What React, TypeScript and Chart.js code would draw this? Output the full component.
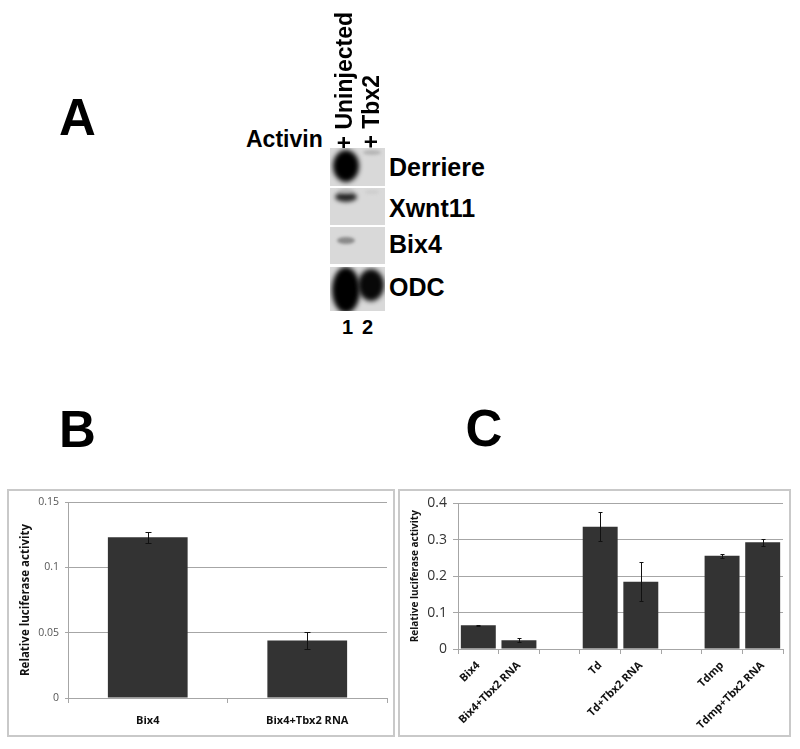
import React, { useEffect, useRef } from 'react';
import Chart from 'chart.js/auto';

// ---- Panel B data ----
const bCategories = ['Bix4', 'Bix4+Tbx2 RNA'];
const bValues = [0.123, 0.044];
const bErrors = [0.004, 0.0065];
const bYTicks = [0, 0.05, 0.1, 0.15];

// ---- Panel C data ----
const cCategories = ['Bix4', 'Bix4+Tbx2 RNA', '', 'Td', 'Td+Tbx2 RNA', '', 'Tdmp', 'Tdmp+Tbx2 RNA'];
const cValues = [0.065, 0.024, null, 0.336, 0.185, null, 0.256, 0.293];
const cErrors = [0.002, 0.005, null, 0.04, 0.053, null, 0.005, 0.01];
const cYTicks = [0, 0.1, 0.2, 0.3, 0.4];

// ---- Panel A labels ----
const gelLaneNumbers = ['1', '2'];
const gelGenes = ['Derriere', 'Xwnt11', 'Bix4', 'ODC'];
const gelConditions = ['+ Uninjected', '+ Tbx2'];

const AXIS_TITLE = 'Relative luciferase activity';
const BAR_COLOR = '#333333';
const GRID = '#a6a6a6';
const FONT = '"Open Sans", Lato, sans-serif';

const errorBarPlugin = {
  id: 'errorBars',
  afterDatasetsDraw(chart: any, _args: any, opts: any) {
    const errs: (number | null)[] = opts.errors || [];
    const cap: number = opts.cap || 3;
    const meta = chart.getDatasetMeta(0);
    const yScale = chart.scales.y;
    const data = chart.data.datasets[0].data;
    const ctx = chart.ctx;
    ctx.save();
    ctx.strokeStyle = '#111';
    ctx.lineWidth = 1;
    meta.data.forEach((el: any, i: number) => {
      const v = data[i];
      const e = errs[i];
      if (v == null || e == null) return;
      const x = Math.round(el.x) + 0.5;
      const yt = Math.round(yScale.getPixelForValue(v + e)) + 0.5;
      const yb = Math.round(yScale.getPixelForValue(v - e)) + 0.5;
      ctx.beginPath();
      ctx.moveTo(x, yt);
      ctx.lineTo(x, yb);
      ctx.moveTo(x - cap, yt);
      ctx.lineTo(x + cap, yt);
      ctx.moveTo(x - cap, yb);
      ctx.lineTo(x + cap, yb);
      ctx.stroke();
    });
    ctx.restore();
  },
};

type BarProps = {
  left: number;
  top: number;
  width: number;
  height: number;
  config: any;
};

function BarCanvas({ left, top, width, height, config }: BarProps) {
  const ref = useRef<HTMLCanvasElement | null>(null);
  useEffect(() => {
    if (!ref.current) return;
    const chart = new Chart(ref.current, config);
    return () => chart.destroy();
  }, []);
  return (
    <>
      <canvas
        ref={ref}
        width={width}
        height={height}
        style={{ position: 'absolute', left, top, width, height }}
      />
      <div
        style={{
          position: 'absolute',
          left,
          top,
          width,
          height,
          boxSizing: 'border-box',
          border: '2px solid #c9c9c9',
          pointerEvents: 'none',
        }}
      />
    </>
  );
}

const configB = {
  type: 'bar',
  data: {
    labels: bCategories,
    datasets: [
      {
        data: bValues,
        backgroundColor: BAR_COLOR,
        borderWidth: 0,
        barPercentage: 0.5,
        categoryPercentage: 1,
      },
    ],
  },
  plugins: [errorBarPlugin],
  options: {
    responsive: false,
    animation: false,
    devicePixelRatio: 1,
    layout: { padding: { top: 13, right: 8, left: 0, bottom: 0 } },
    plugins: {
      legend: { display: false },
      tooltip: { enabled: false },
      errorBars: { errors: bErrors, cap: 3 },
    },
    scales: {
      y: {
        min: bYTicks[0],
        max: bYTicks[bYTicks.length - 1],
        afterBuildTicks: (s: any) => {
          s.ticks = bYTicks.map((v) => ({ value: v }));
        },
        afterFit: (s: any) => {
          s.width = 61;
        },
        grid: { color: GRID, tickLength: 3, lineWidth: 1 },
        border: { color: GRID },
        ticks: {
          padding: 6,
          color: '#555',
          font: { family: FONT, size: 10.5 },
          callback: (v: any) => String(v),
        },
        title: {
          display: true,
          text: AXIS_TITLE,
          color: '#111',
          font: { family: FONT, size: 11.5, weight: 'bold' },
          padding: { top: 12, bottom: 0 },
        },
      },
      x: {
        afterFit: (s: any) => {
          s.height = 39;
        },
        grid: { drawOnChartArea: false, tickLength: 5, color: GRID, offset: true },
        border: { color: GRID },
        ticks: {
          padding: 11,
          color: '#111',
          maxRotation: 0,
          font: { family: FONT, size: 11, weight: 'bold' },
        },
      },
    },
  },
};

const configC = {
  type: 'bar',
  data: {
    labels: cCategories,
    datasets: [
      {
        data: cValues,
        backgroundColor: BAR_COLOR,
        borderWidth: 0,
        barPercentage: 0.86,
        categoryPercentage: 1,
      },
    ],
  },
  plugins: [errorBarPlugin],
  options: {
    responsive: false,
    animation: false,
    devicePixelRatio: 1,
    layout: { padding: { top: 13, right: 8, left: 0, bottom: 0 } },
    plugins: {
      legend: { display: false },
      tooltip: { enabled: false },
      errorBars: { errors: cErrors, cap: 2 },
    },
    scales: {
      y: {
        min: cYTicks[0],
        max: cYTicks[cYTicks.length - 1],
        afterBuildTicks: (s: any) => {
          s.ticks = cYTicks.map((v) => ({ value: v }));
        },
        afterFit: (s: any) => {
          s.width = 60;
        },
        grid: { color: GRID, tickLength: 5, lineWidth: 1 },
        border: { color: GRID },
        ticks: {
          padding: 6,
          color: '#333',
          font: { family: FONT, size: 14 },
          callback: (v: any) => String(v),
        },
        title: {
          display: true,
          text: AXIS_TITLE,
          color: '#111',
          font: { family: FONT, size: 10, weight: 'bold' },
          padding: { top: 11, bottom: 0 },
        },
      },
      x: {
        afterFit: (s: any) => {
          s.height = 88;
        },
        grid: { drawOnChartArea: false, tickLength: 5, color: GRID, offset: true },
        border: { color: GRID },
        ticks: {
          padding: 5,
          color: '#111',
          autoSkip: false,
          minRotation: 45,
          maxRotation: 45,
          font: { family: FONT, size: 11, weight: 'bold' },
        },
      },
    },
  },
};

const HELV = '"Liberation Sans", Arial, Helvetica, sans-serif';

function Txt({ left, top, size, children }: any) {
  return (
    <div
      style={{
        position: 'absolute',
        left,
        top,
        fontFamily: HELV,
        fontWeight: 'bold',
        fontSize: size,
        lineHeight: 1,
        whiteSpace: 'nowrap',
        color: '#000',
      }}
    >
      {children}
    </div>
  );
}

function VTxt({ left, bottom, size, children }: any) {
  return (
    <div
      style={{
        position: 'absolute',
        left,
        bottom,
        fontFamily: HELV,
        fontWeight: 'bold',
        fontSize: size,
        lineHeight: 1,
        whiteSpace: 'nowrap',
        writingMode: 'vertical-rl',
        transform: 'rotate(180deg)',
        color: '#000',
      }}
    >
      {children}
    </div>
  );
}

function Blob({ cx, cy, w, h, color, blur }: any) {
  return (
    <div
      style={{
        position: 'absolute',
        left: cx - w / 2,
        top: cy - h / 2,
        width: w,
        height: h,
        borderRadius: '50%',
        background: color,
        filter: `blur(${blur}px)`,
      }}
    />
  );
}

const gelRows = [
  { top: 148, height: 38 },
  { top: 188, height: 37 },
  { top: 227, height: 37 },
  { top: 267, height: 44 },
];
const geneCenters = [167.5, 208, 244.5, 287.5];

function PanelA() {
  return (
    <>
      <Txt left={59} top={91.5} size={51}>A</Txt>
      <Txt left={246} top={128} size={23}>Activin</Txt>
      <VTxt left={333} bottom={600} size={23}>{gelConditions[0]}</VTxt>
      <VTxt left={360} bottom={600} size={23}>{gelConditions[1]}</VTxt>
      {gelRows.map((r, i) => (
        <div
          key={i}
          style={{
            position: 'absolute',
            left: 330,
            top: r.top,
            width: 55,
            height: r.height,
            background: '#d9d9d9',
            overflow: 'hidden',
          }}
        >
          {i === 0 && (
            <>
              <Blob cx={16} cy={18} w={26} h={32} color="#000" blur={2.5} />
              <Blob cx={42} cy={4} w={18} h={5} color="#b5b5b5" blur={1.5} />
            </>
          )}
          {i === 1 && (
            <>
              <Blob cx={16} cy={9} w={22} h={10} color="#2a2a2a" blur={2} />
              <Blob cx={16} cy={3} w={14} h={4} color="#bbb" blur={2} />
              <Blob cx={42} cy={4} w={14} h={4} color="#cdcdcd" blur={1.5} />
            </>
          )}
          {i === 2 && <Blob cx={16} cy={13} w={18} h={7} color="#8a8a8a" blur={1.8} />}
          {i === 3 && (
            <>
              <Blob cx={16} cy={23} w={28} h={46} color="#000" blur={2.5} />
              <Blob cx={41} cy={18} w={26} h={32} color="#080808" blur={2.5} />
            </>
          )}
        </div>
      ))}
      {gelGenes.map((g, i) => (
        <Txt key={g} left={389} top={geneCenters[i] - 12.5} size={25}>
          {g}
        </Txt>
      ))}
      <Txt left={342} top={316.5} size={20}>{gelLaneNumbers[0]}</Txt>
      <Txt left={362} top={316.5} size={20}>{gelLaneNumbers[1]}</Txt>
    </>
  );
}

export default function App() {
  return (
    <div
      style={{
        position: 'absolute',
        left: 0,
        top: 0,
        width: 800,
        height: 749,
        background: '#fff',
        overflow: 'hidden',
      }}
    >
      <PanelA />
      <Txt left={59} top={403.5} size={51}>B</Txt>
      <Txt left={465.5} top={403} size={51}>C</Txt>
      <BarCanvas left={7} top={489} width={388} height={248} config={configB} />
      <BarCanvas left={398} top={489} width={393} height={248} config={configC} />
    </div>
  );
}
